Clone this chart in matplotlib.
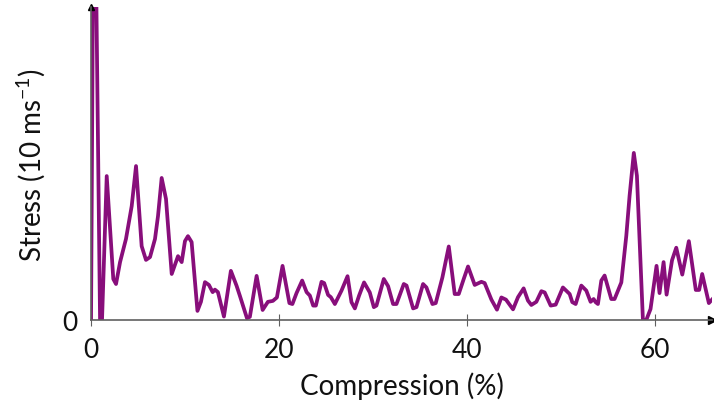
import matplotlib
matplotlib.use("Agg")
import matplotlib.pyplot as plt

# compression (%) and stress readings
compression = [0.00, 0.32, 0.96, 1.17, 1.67, 2.37, 2.66, 3.09, 3.72, 4.33,
               4.79, 5.39, 5.85, 6.28, 6.81, 7.13, 7.52, 7.98, 8.59, 9.26,
               9.65, 10.00, 10.32, 10.71, 11.33, 11.70, 12.13, 12.55, 12.95, 13.19,
               13.51, 14.15, 14.89, 15.50, 15.85, 16.60, 16.91, 17.63, 18.27, 18.83,
               19.36, 19.79, 20.39, 21.12, 21.44, 21.88, 22.48, 22.95, 23.30, 23.65,
               23.94, 24.54, 24.82, 25.24, 25.53, 25.96, 26.67, 27.31, 27.73, 28.09,
               28.54, 29.07, 29.68, 30.11, 30.39, 31.17, 31.63, 32.16, 32.52, 33.30,
               33.59, 34.29, 34.65, 35.35, 35.71, 36.35, 36.70, 37.41, 38.09, 38.72,
               39.15, 39.68, 40.14, 40.85, 41.56, 41.91, 42.63, 43.22, 43.69, 44.18,
               44.93, 45.46, 46.06, 46.52, 46.88, 47.41, 47.95, 48.30, 48.94, 49.47,
               50.24, 50.96, 51.24, 51.60, 52.20, 52.73, 53.19, 53.51, 53.72, 53.97,
               54.33, 54.68, 55.39, 55.74, 56.46, 56.99, 57.34, 57.79, 58.12, 58.40,
               58.76, 59.12, 59.57, 60.21, 60.53, 60.96, 61.28, 61.86, 62.31, 62.95,
               63.65, 64.39, 64.75, 65.07, 65.78, 66.17]
stress = [0.00, 16.6, 0.00, 0.00, 4.60, 1.31, 1.15, 1.85, 2.59, 3.64,
          4.92, 2.36, 1.92, 2.01, 2.59, 3.32, 4.54, 3.87, 1.47, 2.04,
          1.85, 2.52, 2.68, 2.49, 0.29, 0.58, 1.21, 1.12, 0.89, 0.97,
          0.89, 0.11, 1.57, 1.09, 0.77, 0.06, 0.10, 1.41, 0.32, 0.58,
          0.61, 0.72, 1.73, 0.54, 0.51, 0.86, 1.26, 0.89, 0.78, 0.46,
          0.46, 1.22, 1.18, 0.80, 0.73, 0.51, 0.94, 1.40, 0.57, 0.37,
          0.78, 1.20, 0.88, 0.41, 0.46, 1.31, 1.08, 0.51, 0.51, 1.15,
          1.10, 0.37, 0.41, 1.15, 1.04, 0.51, 0.54, 1.36, 2.35, 0.83,
          0.83, 1.31, 1.71, 1.12, 1.22, 1.18, 0.65, 0.33, 0.72, 0.65,
          0.34, 0.73, 1.01, 0.62, 0.48, 0.58, 0.92, 0.88, 0.46, 0.49,
          1.04, 0.83, 0.57, 0.51, 1.10, 0.94, 0.58, 0.67, 0.57, 0.51,
          1.26, 1.42, 0.67, 0.67, 1.20, 2.69, 3.97, 5.34, 4.61, 2.59,
          0.00, 0.00, 0.35, 1.73, 0.86, 1.85, 0.81, 1.91, 2.31, 1.45,
          2.52, 0.96, 0.96, 1.47, 0.54, 0.67]

xticks = [0, 20, 40, 60]
yticks = [0]

plt.rcParams['font.family'] = ['Lato', 'DejaVu Sans']
plt.rcParams['mathtext.fontset'] = 'custom'
plt.rcParams['mathtext.rm'] = 'Lato'
plt.rcParams['mathtext.it'] = 'Lato:italic'

fig = plt.figure(figsize=(7.14, 4.06), dpi=100)
ax = fig.add_axes([0.1275, 0.2094, 0.8695, 0.7706])

ax.plot(compression, stress, color='#880E7B', lw=2.7, solid_joinstyle='round')

ax.set_xlim(0, 66.1)
ax.set_ylim(0, 10)

for side in ['top', 'right']:
    ax.spines[side].set_visible(False)
for side in ['left', 'bottom']:
    ax.spines[side].set_color('#606060')
    ax.spines[side].set_linewidth(1.2)

# arrow heads on the axes
ax.plot(1, 0, '>', color='black', ms=6, transform=ax.transAxes, clip_on=False)
ax.plot(0, 1, '^', color='black', ms=5, transform=ax.transAxes, clip_on=False)

ax.set_xticks(xticks)
ax.set_yticks(yticks)
ax.tick_params(axis='both', direction='inout', length=8, width=0.8,
               color='#606060', labelsize=19, labelcolor='#111111')
ax.tick_params(axis='y', length=0, pad=10)
ax.tick_params(axis='x', pad=8)

ax.set_xlabel('Compression (%)', fontsize=20, labelpad=7, color='#111111')
ax.set_ylabel('Stress (10 ms$^{-1}$)', fontsize=20, labelpad=11, color='#111111')

fig.savefig('out.png', dpi=100)
